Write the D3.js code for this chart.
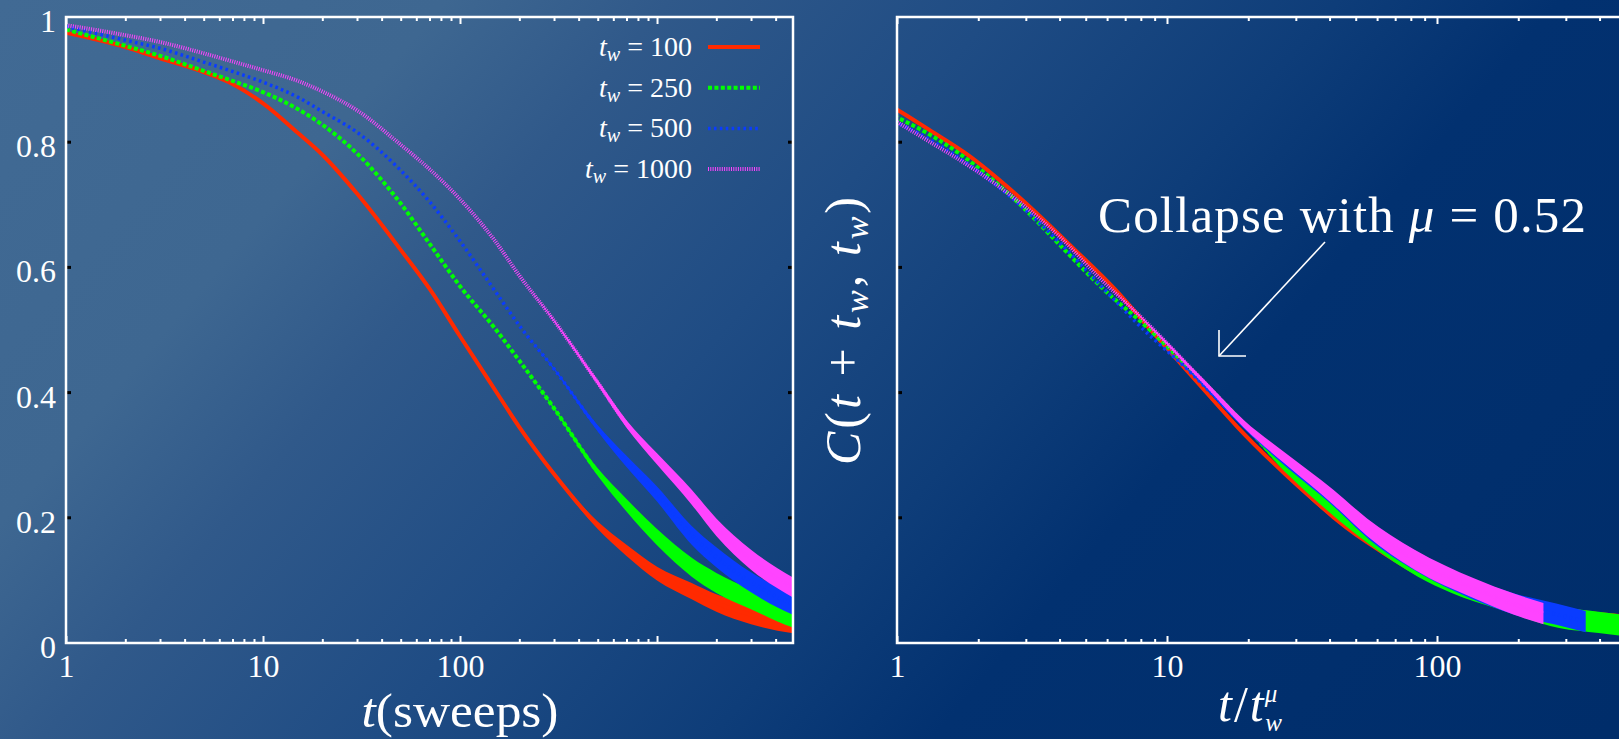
<!DOCTYPE html>
<html>
<head>
<meta charset="utf-8">
<script src="https://cdn.jsdelivr.net/npm/d3@7"></script>
<style>
  html, body { margin: 0; padding: 0; overflow: hidden; background: #0b3a78; }
  svg { display: block; }
  text { font-family: "Liberation Serif", "DejaVu Serif", serif; fill: #ffffff; }
</style>
</head>
<body>
<svg id="chart" width="1619" height="739"></svg>
<script>
// waiting times and collapse exponent
const waitTimes = [100, 250, 500, 1000];
const mu = 0.52;

// t (sweeps) grid the curves were read at
const tGrid = [1, 2, 3, 5, 7, 10, 15, 20, 30, 50, 70, 100, 150, 200, 300, 500, 700, 1000, 1500, 2000, 3000, 5000, 7000, 9000];

// C(t + tw, tw) for each tw
const c100  = [0.975, 0.952, 0.934, 0.912, 0.893, 0.862, 0.815, 0.780, 0.718, 0.628, 0.566, 0.490, 0.405, 0.345, 0.270, 0.188, 0.148, 0.111, 0.083, 0.064, 0.045, 0.031, 0.027, 0.025];
const c250  = [0.980, 0.954, 0.938, 0.914, 0.898, 0.880, 0.853, 0.828, 0.782, 0.702, 0.638, 0.570, 0.503, 0.451, 0.375, 0.273, 0.220, 0.169, 0.121, 0.096, 0.070, 0.041, 0.033, 0.027];
const c500  = [0.985, 0.963, 0.950, 0.928, 0.913, 0.896, 0.872, 0.849, 0.816, 0.755, 0.705, 0.642, 0.563, 0.507, 0.438, 0.343, 0.290, 0.238, 0.172, 0.137, 0.097, 0.061, 0.046, 0.034];
const c1000 = [0.987, 0.971, 0.960, 0.942, 0.929, 0.915, 0.898, 0.881, 0.851, 0.796, 0.757, 0.709, 0.643, 0.587, 0.515, 0.416, 0.350, 0.294, 0.233, 0.185, 0.133, 0.087, 0.062, 0.047];

// half width of the noisy band around each curve
const n100  = [0, 0, 0, 0, 0, 0, 0, 0, 0, 0, 0, 0, 0, 0, 0.002, 0.006, 0.009, 0.011, 0.013, 0.014, 0.015, 0.016, 0.017, 0.017];
const n250  = [0, 0, 0, 0, 0, 0, 0, 0, 0, 0, 0, 0, 0, 0, 0.002, 0.006, 0.010, 0.013, 0.015, 0.016, 0.016, 0.017, 0.017, 0.017];
const n500  = [0, 0, 0, 0, 0, 0, 0, 0, 0, 0, 0, 0, 0, 0, 0.0015, 0.005, 0.009, 0.012, 0.015, 0.016, 0.016, 0.017, 0.017, 0.017];
const n1000 = [0, 0, 0, 0, 0, 0, 0, 0, 0, 0, 0, 0, 0, 0, 0.0015, 0.004, 0.006, 0.009, 0.012, 0.014, 0.016, 0.016, 0.017, 0.017];

const curves = [c100, c250, c500, c1000];
const noise = [n100, n250, n500, n1000];

const xTickValues = [1, 10, 100, 1000];
const xTickLabels = ["1", "10", "100", ""];
const yTickValues = [0, 0.2, 0.4, 0.6, 0.8, 1];
const yTickLabels = ["0", "0.2", "0.4", "0.6", "0.8", "1"];

// styles
const colors = ["#ff2a00", "#00ff00", "#0a3cff", "#ff44ff"];
const widths = [4, 4, 3.5, 4];
const dashes = [null, "4,2.4", "2.6,3.3", "1,1.3"];

const svg = d3.select('#chart');
const defs = svg.append("defs");

const grad = defs.append("linearGradient")
    .attr("id", "bg")
    .attr("gradientUnits", "userSpaceOnUse")
    .attr("x1", 0).attr("y1", 0)
    .attr("x2", 1295).attr("y2", 1100);
[[0, "#416a94"], [0.2, "#3e6791"], [0.3, "#30598a"], [0.45, "#1f4c84"],
 [0.6, "#0e3d79"], [0.7, "#023170"], [1, "#002d6a"]].forEach(s => {
    grad.append("stop").attr("offset", s[0]).attr("stop-color", s[1]);
});
svg.append("rect").attr("width", 1619).attr("height", 739).attr("fill", "url(#bg)");

const y = d3.scaleLinear().domain([0, 1]).range([643, 17]);

function minorTicks(x) {
    const out = [];
    const hi = x.domain()[1];
    for (let d = 1; d <= hi; d *= 10) {
        for (let k = 2; k <= 9; k++) {
            if (d * k <= hi) out.push(d * k);
        }
    }
    return out;
}

function styleAxis(g) {
    g.select(".domain").remove();
    g.selectAll(".tick line").attr("stroke", "#ffffff").attr("stroke-width", 2);
}

function drawPanel(id, x, rescale, showYLabels) {
    const [x0, x1] = x.range();
    const panel = svg.append("g").attr("id", id);

    defs.append("clipPath").attr("id", "clip-" + id)
        .append("rect")
        .attr("x", x0).attr("y", y(1))
        .attr("width", x1 - x0).attr("height", y(0) - y(1));

    const plot = panel.append("g").attr("clip-path", "url(#clip-" + id + ")");

    curves.forEach((c, i) => {
        const f = rescale ? Math.pow(waitTimes[i], mu) : 1;
        const pts = tGrid.map((t, j) => ({ x: t / f, c: c[j], n: noise[i][j] }));

        plot.append("path")
            .datum(pts)
            .attr("fill", colors[i])
            .attr("d", d3.area()
                .x(d => x(d.x))
                .y0(d => y(d.c - d.n))
                .y1(d => y(d.c + d.n))
                .curve(d3.curveMonotoneX));

        plot.append("path")
            .datum(pts)
            .attr("fill", "none")
            .attr("stroke", colors[i])
            .attr("stroke-width", widths[i])
            .attr("stroke-dasharray", dashes[i])
            .attr("d", d3.line()
                .x(d => x(d.x))
                .y(d => y(d.c))
                .curve(d3.curveMonotoneX));
    });

    // x axes: ticks point inwards
    const bottom = panel.append("g").attr("transform", `translate(0,${y(0)})`)
        .call(d3.axisBottom(x).tickValues(xTickValues)
            .tickSize(-7)
            .tickFormat((d, i) => xTickLabels[i]));
    styleAxis(bottom);
    bottom.selectAll("text")
        .attr("fill", "#ffffff")
        .attr("y", 34).attr("dy", 0)
        .style("font-size", "32px")
        .style("font-family", '"Liberation Serif", serif');

    panel.append("g").attr("transform", `translate(0,${y(0)})`)
        .call(d3.axisBottom(x).tickValues(minorTicks(x)).tickSize(-4).tickFormat(""))
        .call(styleAxis);
    panel.append("g").attr("transform", `translate(0,${y(1)})`)
        .call(d3.axisTop(x).tickValues(xTickValues).tickSize(-7).tickFormat(""))
        .call(styleAxis);
    panel.append("g").attr("transform", `translate(0,${y(1)})`)
        .call(d3.axisTop(x).tickValues(minorTicks(x)).tickSize(-4).tickFormat(""))
        .call(styleAxis);

    // y ticks are small black marks on the frame
    const inner = yTickValues.filter(v => v > 0 && v < 1);
    panel.selectAll("rect.ytl").data(inner).enter().append("rect")
        .attr("class", "ytl")
        .attr("x", x0 + 1).attr("y", d => y(d) - 1.5)
        .attr("width", 4).attr("height", 3).attr("fill", "#000000");
    panel.selectAll("rect.ytr").data(inner).enter().append("rect")
        .attr("class", "ytr")
        .attr("x", x1 - 5).attr("y", d => y(d) - 1.5)
        .attr("width", 4).attr("height", 3).attr("fill", "#000000");

    if (showYLabels) {
        const left = panel.append("g").attr("transform", `translate(${x0},0)`)
            .call(d3.axisLeft(y).tickValues(yTickValues).tickSize(0).tickPadding(10)
                .tickFormat((d, i) => yTickLabels[i]));
        styleAxis(left);
        left.selectAll("text")
            .attr("fill", "#ffffff")
            .attr("dy", "0.45em")
            .style("font-size", "32px")
            .style("font-family", '"Liberation Serif", serif');
    }

    panel.append("rect")
        .attr("x", x0).attr("y", y(1))
        .attr("width", x1 - x0).attr("height", y(0) - y(1))
        .attr("fill", "none").attr("stroke", "#ffffff").attr("stroke-width", 2.5);
}

const xLeft = d3.scaleLog().domain([1, 4900]).range([66, 793]);
const xRight = d3.scaleLog().domain([1, 1000]).range([897, 1707]);

drawPanel("left", xLeft, false, true);
drawPanel("right", xRight, true, false);

// legend
const legend = svg.append("g").attr("id", "legend");
waitTimes.forEach((tw, i) => {
    const yy = 56 + i * 40.7;
    const txt = legend.append("text")
        .attr("x", 692).attr("y", yy)
        .attr("text-anchor", "end")
        .style("font-size", "28px");
    txt.append("tspan").style("font-style", "italic").text("t");
    txt.append("tspan").style("font-style", "italic").style("font-size", "20px").attr("dy", 5).text("w");
    txt.append("tspan").attr("dy", -5).text(" = " + tw);

    legend.append("line")
        .attr("x1", 708).attr("x2", 760)
        .attr("y1", yy - 9).attr("y2", yy - 9)
        .attr("stroke", colors[i])
        .attr("stroke-width", widths[i])
        .attr("stroke-dasharray", dashes[i]);
});

// axis titles
const tl = svg.append("text")
    .attr("x", 460).attr("y", 727)
    .attr("text-anchor", "middle")
    .attr("textLength", 197)
    .attr("lengthAdjust", "spacingAndGlyphs")
    .style("font-size", "48px");
tl.append("tspan").style("font-style", "italic").text("t");
tl.append("tspan").text("(sweeps)");

const tr = svg.append("text")
    .attr("x", 1218).attr("y", 721)
    .style("font-size", "50px");
tr.append("tspan").style("font-style", "italic").text("t");
tr.append("tspan").attr("dx", 2).text("/");
tr.append("tspan").style("font-style", "italic").attr("dx", 2).text("t");
tr.append("tspan").style("font-style", "italic").style("font-size", "25px")
    .attr("dx", 1).attr("dy", -19).text("\u03bc");
tr.append("tspan").style("font-style", "italic").style("font-size", "25px")
    .attr("dx", -12).attr("dy", 29).text("w");

const yl = svg.append("text")
    .attr("transform", "translate(860,331) rotate(-90)")
    .attr("text-anchor", "middle")
    .attr("textLength", 268)
    .attr("lengthAdjust", "spacing")
    .style("font-size", "50px");
yl.append("tspan").style("font-style", "italic").text("C");
yl.append("tspan").text("(");
yl.append("tspan").style("font-style", "italic").text("t");
yl.append("tspan").text(" + ");
yl.append("tspan").style("font-style", "italic").text("t");
yl.append("tspan").style("font-style", "italic").style("font-size", "34px").attr("dy", 8).text("w");
yl.append("tspan").attr("dy", -8).text(", ");
yl.append("tspan").style("font-style", "italic").text("t");
yl.append("tspan").style("font-style", "italic").style("font-size", "34px").attr("dy", 8).text("w");
yl.append("tspan").attr("dy", -8).text(")");

// annotation
const note = svg.append("text")
    .attr("x", 1098).attr("y", 232)
    .attr("textLength", 488)
    .attr("lengthAdjust", "spacing")
    .style("font-size", "51px");
note.append("tspan").text("Collapse with ");
note.append("tspan").style("font-style", "italic").text("\u03bc");
note.append("tspan").text(" = 0.52");

const arrow = svg.append("g").attr("stroke", "#ffffff").attr("stroke-width", 1.6).attr("fill", "none");
arrow.append("line").attr("x1", 1325).attr("y1", 242).attr("x2", 1219).attr("y2", 356);
arrow.append("path").attr("d", "M1219,330 L1219,356 L1246,356");
</script>
</body>
</html>
